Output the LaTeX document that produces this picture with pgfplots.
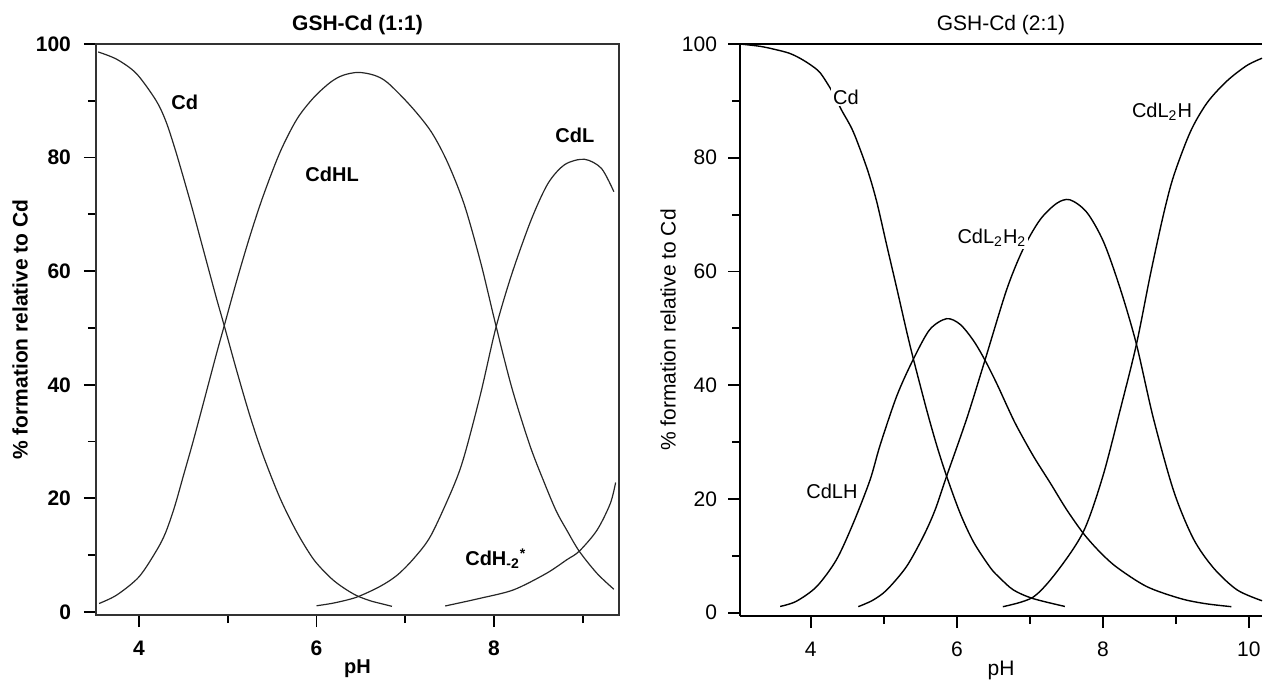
\documentclass[border=0pt]{standalone}
\usepackage{fontspec}
\setmainfont{Liberation Sans}
\usepackage{pgfplots}
\pgfplotsset{compat=1.18}
\pgfplotsset{
  common/.style={
    scale only axis,
    tick align=outside,
    major tick length=6pt, minor tick length=4pt,
    every tick/.style={black, line width=0.9pt},
    /pgf/number format/assume math mode=true,
    xtick={4,6,8,10}, minor xtick={5,7,9},
    ytick={0,20,40,60,80,100}, minor ytick={10,30,50,70,90},
    xticklabel shift=3.5pt,
    title style={at={(axis description cs:0.5,1)}, anchor=center, yshift=3.5pt},
    xlabel style={at={(axis description cs:0.5,0)}, anchor=center, yshift=-27pt},
    clip=false,
    no markers,
  },
}
\begin{document}
\begin{tikzpicture}
\path[use as bounding box] (-48pt,-33pt) rectangle (583.5pt,307.5pt);
% ---------------- left panel ----------------
\begin{axis}[common,
  at={(0pt,0pt)}, anchor=south west,
  width=261.5pt, height=285.5pt,
  xmin=3.515, xmax=9.408, ymin=-0.53, ymax=100,
  tick pos=left,
  yticklabel shift=3pt,
  axis line style={line width=1pt, black!80},
  ticklabel style={font=\fontsize{10.5}{12}\selectfont\bfseries},
  title={GSH-Cd (1:1)},
  title style={font=\fontsize{10.5}{12}\selectfont\bfseries},
  xlabel={pH},
  xlabel style={font=\fontsize{10}{12}\selectfont\bfseries},
  ylabel={\% formation relative to Cd},
  ylabel style={font=\fontsize{10.5}{12}\selectfont\bfseries, at={(axis description cs:0,0.5)}, anchor=center, yshift=38pt},
  every axis plot post/.append style={line width=0.6pt, black!85, smooth, tension=0.5},
]
% Cd
\addplot coordinates {(3.54,98.6) (3.75,97.3) (3.97,94.8) (4.19,90.1) (4.30,86.5) (4.40,81.8) (4.50,76.5) (4.60,71.0) (4.70,65.2) (4.80,59.4) (4.88,54.8) (4.96,50.4) (5.10,42.5) (5.25,34.5) (5.40,27.5) (5.59,20.0) (5.78,14.0) (5.97,9.2) (6.16,6.0) (6.30,4.3) (6.45,2.9) (6.60,2.0) (6.72,1.5) (6.85,1.0)};
% CdHL
\addplot coordinates {(3.55,1.5) (3.75,3.0) (4.00,6.2) (4.20,10.9) (4.30,14.0) (4.40,18.5) (4.50,24.0) (4.60,29.5) (4.70,35.3) (4.80,41.2) (4.88,45.9) (4.96,50.4) (5.10,58.3) (5.25,66.2) (5.40,73.3) (5.59,81.0) (5.78,86.8) (5.97,90.6) (6.16,93.3) (6.30,94.5) (6.47,95.0) (6.65,94.5) (6.80,93.2) (7.06,89.1) (7.29,84.6) (7.475,79.2) (7.665,71.7) (7.85,61.5) (8.02,50.5) (8.20,39.5) (8.40,29.5) (8.555,23.2) (8.70,17.8) (8.82,14.4) (8.96,10.7) (9.16,6.8) (9.35,4.0)};
% CdL
\addplot coordinates {(6.00,1.1) (6.20,1.6) (6.45,2.6) (6.715,4.5) (6.91,6.5) (7.10,9.5) (7.29,13.5) (7.54,22.0) (7.665,27.5) (7.85,38.5) (8.02,50.0) (8.20,59.5) (8.42,69.1) (8.61,75.5) (8.80,78.8) (9.02,79.7) (9.21,78.1) (9.35,74.0)};
% CdH-2*
\addplot coordinates {(7.45,1.06) (7.84,2.4) (8.22,3.9) (8.59,6.8) (8.82,9.2) (8.96,10.7) (9.16,14.4) (9.31,19.1) (9.37,22.8)};
\node[font=\fontsize{10}{12}\selectfont\bfseries] at (axis cs:4.515,89.7) {Cd};
\node[font=\fontsize{10}{12}\selectfont\bfseries] at (axis cs:6.175,77.1) {CdHL};
\node[font=\fontsize{10}{12}\selectfont\bfseries] at (axis cs:8.91,83.9) {CdL};
\node[font=\fontsize{10}{12}\selectfont\bfseries] at (axis cs:8.02,9.4) {CdH\textsubscript{-2}\textsuperscript{*}};
\end{axis}
% ---------------- right panel ----------------
\begin{axis}[common,
  at={(322pt,-0.5pt)}, anchor=south west,
  width=261pt, height=286pt,
  xmin=3.03, xmax=10.18, ymin=-0.58, ymax=100,
  axis x line*=bottom, axis y line*=left,
  yticklabel shift=2pt,
  axis line style={line width=1pt, black},
  ticklabel style={font=\fontsize{10.5}{12}\selectfont},
  title={GSH-Cd (2:1)},
  title style={font=\fontsize{10.5}{12}\selectfont},
  xlabel={pH},
  xlabel style={font=\fontsize{10.5}{12}\selectfont},
  ylabel={\% formation relative to Cd},
  ylabel style={font=\fontsize{10.5}{12}\selectfont, at={(axis description cs:0,0.5)}, anchor=center, yshift=36pt},
  every axis plot post/.append style={line width=0.7pt, black, smooth, tension=0.5},
]
\draw[line width=1pt] (rel axis cs:0,1) -- (rel axis cs:1,1);
% Cd
\addplot coordinates {(3.03,100.0) (3.30,99.6) (3.49,99.1) (3.70,98.4) (3.85,97.5) (4.00,96.3) (4.13,94.9) (4.29,91.7) (4.42,88.4) (4.58,84.6) (4.77,78.1) (4.90,72.4) (5.04,64.6) (5.18,56.9) (5.31,49.6) (5.405,44.6) (5.59,35.5) (5.725,29.4) (5.86,24.0) (6.045,17.5) (6.23,12.4) (6.46,7.9) (6.59,6.1) (6.775,4.0) (7.04,2.5) (7.48,1.1)};
% CdLH
\addplot coordinates {(3.58,1.1) (3.80,2.0) (4.08,4.6) (4.35,9.3) (4.58,15.7) (4.81,23.3) (4.95,29.5) (5.18,38.2) (5.405,44.6) (5.63,49.8) (5.86,51.7) (6.045,50.7) (6.23,47.8) (6.39,44.3) (6.55,40.2) (6.70,36.0) (6.82,32.8) (7.05,27.5) (7.28,22.8) (7.50,18.2) (7.73,14.0) (7.95,10.8) (8.19,8.0) (8.60,4.6) (9.06,2.5) (9.40,1.6) (9.76,1.06)};
% CdL2H2
\addplot coordinates {(4.65,1.06) (4.85,2.2) (5.04,4.0) (5.31,8.1) (5.54,13.4) (5.70,18.0) (5.86,24.0) (6.14,34.3) (6.39,44.6) (6.685,56.9) (6.91,64.0) (7.14,69.1) (7.37,72.0) (7.55,72.6) (7.78,70.4) (8.01,65.2) (8.24,56.9) (8.46,47.2) (8.69,34.3) (8.97,21.4) (9.24,13.0) (9.52,7.8) (9.84,4.0) (10.18,2.1)};
% CdL2H
\addplot coordinates {(6.63,1.06) (7.04,2.7) (7.37,7.2) (7.735,14.3) (8.00,24.0) (8.24,35.8) (8.46,47.2) (8.65,59.4) (8.83,70.0) (8.97,76.8) (9.20,84.6) (9.43,89.7) (9.70,93.5) (9.97,96.2) (10.18,97.5)};
\node[fill=white, inner sep=1pt, font=\fontsize{10}{12}\selectfont] at (axis cs:4.48,90.7) {Cd};
\node[fill=white, inner sep=1pt, font=\fontsize{10}{12}\selectfont] at (axis cs:6.48,65.9) {CdL\textsubscript{2}H\textsubscript{2}};
\node[font=\fontsize{10}{12}\selectfont] at (axis cs:8.81,88.1) {CdL\textsubscript{2}H};
\node[font=\fontsize{10}{12}\selectfont] at (axis cs:4.29,21.4) {CdLH};
\end{axis}
\end{tikzpicture}
\end{document}
